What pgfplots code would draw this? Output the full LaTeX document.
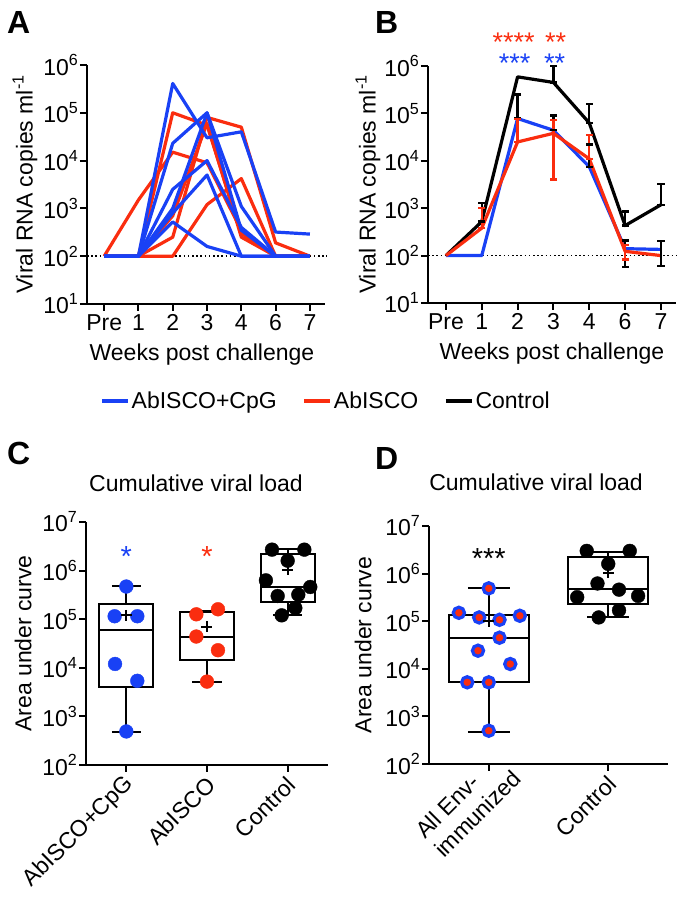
\documentclass[border=0pt]{standalone}
\usepackage{pgfplots}
\pgfplotsset{compat=1.18}
\usepackage{fontspec}
\setmainfont{Liberation Sans}
\definecolor{myblue}{RGB}{25,65,245}
\definecolor{myred}{RGB}{250,45,15}
\newcommand{\fs}{\fontsize{23pt}{27pt}\selectfont}
\newcommand{\ten}[1]{10\textsuperscript{#1}}
\pgfplotsset{
  mybase/.style={
    scale only axis, clip=false,
    axis lines=left,
    axis line style={line width=2pt,-},
    tick style={black,line width=2pt},
    tick align=outside, major tick length=7pt,
    yminorticks=false, xminorticks=false,
    tick label style={font=\fs},
    label style={font=\fs},
    yticklabel style={inner sep=1.5pt},
  },
  mydline/.style={black, line width=1.6pt, dash pattern=on 1.6pt off 2.6pt, forget plot},
  myvl/.style={line width=3.2pt, line join=round, forget plot},
  mybx/.style={black, line width=2pt, unbounded coords=jump, forget plot},
  mymn/.style={only marks, mark=+, mark size=5.5pt, mark options={black, line width=2pt}, forget plot},
}
\begin{document}
\begin{tikzpicture}
\useasboundingbox (0,0) rectangle (686pt,900pt);
\node[font=\fontsize{32pt}{34pt}\selectfont\bfseries, anchor=base west, inner sep=0pt] at (7pt,866.7pt) {A};
\node[font=\fontsize{32pt}{34pt}\selectfont\bfseries, anchor=base west, inner sep=0pt] at (375pt,866.7pt) {B};
\node[font=\fontsize{32pt}{34pt}\selectfont\bfseries, anchor=base west, inner sep=0pt] at (7pt,435pt) {C};
\node[font=\fontsize{32pt}{34pt}\selectfont\bfseries, anchor=base west, inner sep=0pt] at (375pt,430pt) {D};

% ---------------- Panel A ----------------
\begin{axis}[mybase, ymode=log, at={(87pt,596pt)}, anchor=south west, width=238pt, height=239pt,
  xmin=-0.5, xmax=6.44, ymin=10, ymax=1e6,
  xtick={0,...,6}, xticklabels={Pre,1,2,3,4,6,7},
  ytick={10,100,1000,10000,100000,1000000},
  yticklabels={\ten{1},\ten{2},\ten{3},\ten{4},\ten{5},\ten{6}},
  xlabel={Weeks post challenge}, ylabel={Viral RNA copies ml\textsuperscript{-1}},
  xlabel style={at={(axis description cs:0.483,-0.2385)}, anchor=base},
  ylabel style={at={(axis description cs:-0.2605,0.5)}, anchor=center},
]
\addplot[mydline] coordinates {(-0.5,100) (6.5,100)};
% AbISCO (red)
\addplot[myvl, myred] coordinates {(0,100) (1,1500) (2,15000) (3,9000) (4,350) (5,100) (6,100)};
\addplot[myvl, myred] coordinates {(0,100) (1,100) (2,100000) (3,55000) (4,300) (5,100) (6,100)};
\addplot[myvl, myred] coordinates {(0,100) (1,100) (2,250) (3,80000) (4,50000) (5,190) (6,100)};
\addplot[myvl, myred] coordinates {(0,100) (1,100) (2,100) (3,1200) (4,4200) (5,100) (6,100)};
\addplot[myvl, myred] coordinates {(0,100) (1,100) (2,700) (3,60000) (4,250) (5,100) (6,100)};
% AbISCO+CpG (blue)
\addplot[myvl, myblue] coordinates {(0,100) (1,100) (2,410000) (3,30000) (4,40000) (5,320) (6,290)};
\addplot[myvl, myblue] coordinates {(0,100) (1,100) (2,23000) (3,100000) (4,1100) (5,100) (6,100)};
\addplot[myvl, myblue] coordinates {(0,100) (1,100) (2,1000) (3,100000) (4,350) (5,100) (6,100)};
\addplot[myvl, myblue] coordinates {(0,100) (1,100) (2,2500) (3,10000) (4,400) (5,100) (6,100)};
\addplot[myvl, myblue] coordinates {(0,100) (1,100) (2,800) (3,5000) (4,100) (5,100) (6,100)};
\addplot[myvl, myblue] coordinates {(0,100) (1,100) (2,520) (3,160) (4,100) (5,100) (6,100)};
\end{axis}

% ---------------- Panel B ----------------
\begin{axis}[mybase, ymode=log, at={(428pt,597pt)}, anchor=south west, width=248pt, height=237pt,
  xmin=-0.5, xmax=6.42, ymin=10, ymax=1e6,
  xtick={0,...,6}, xticklabels={Pre,1,2,3,4,6,7},
  ytick={10,100,1000,10000,100000,1000000},
  yticklabels={\ten{1},\ten{2},\ten{3},\ten{4},\ten{5},\ten{6}},
  xlabel={Weeks post challenge}, ylabel={Viral RNA copies ml\textsuperscript{-1}},
  xlabel style={at={(axis description cs:0.5,-0.2405)}, anchor=base},
  ylabel style={at={(axis description cs:-0.242,0.5)}, anchor=center},
  legend style={at={(axis description cs:-0.411,-0.4135)}, anchor=center, draw=none, fill=none,
    legend columns=3, font=\fs, /tikz/every even column/.append style={column sep=24pt}},
  legend image code/.code={\draw[#1] (0pt,0pt) -- (26pt,0pt);},
]
\addplot[mydline] coordinates {(-0.5,100) (6.52,100)};
\addplot[myvl, black] coordinates {(0,100) (1,520) (2,590000) (3,450000) (4,63000) (5,430) (6,1180)};
\addplot[myvl, myblue] coordinates {(0,100) (1,100) (2,78000) (3,44000) (4,7500) (5,140) (6,135)};
\addplot[myvl, myred] coordinates {(0,100) (1,380) (2,25000) (3,38000) (4,11000) (5,123) (6,100)};
\addplot[black, line width=2.4pt, mark=-, mark size=3.6pt, mark options={solid, line width=2.4pt}, unbounded coords=jump, forget plot] coordinates {
 (1,520) (1,1280) (1,nan)
 (2,78000) (2,250000) (2,nan)
 (3,450000) (3,1000000) (3,nan)
 (3,44000) (3,90000) (3,nan)
 (4,63000) (4,160000) (4,nan)
 (4,7500) (4,22000) (4,nan)
 (5,430) (5,850) (5,nan)
 (5,57) (5,210) (5,nan)
 (6,1180) (6,3200) (6,nan)
 (6,60) (6,205)
};
\addplot[myred, line width=2.4pt, mark=-, mark size=3.6pt, mark options={solid, line width=2.4pt}, unbounded coords=jump, forget plot] coordinates {
 (1,380) (1,1000) (1,nan)
 (2,25000) (2,76000) (2,nan)
 (3,4000) (3,72000) (3,nan)
 (4,11000) (4,35000) (4,nan)
 (5,83) (5,165)
};
\node[font=\fontsize{27pt}{29pt}\selectfont, text=myred, anchor=base] at (axis cs:1.89,2.04e6) {****};
\node[font=\fontsize{27pt}{29pt}\selectfont, text=myred, anchor=base] at (axis cs:3.06,2.04e6) {**};
\node[font=\fontsize{27pt}{29pt}\selectfont, text=myblue, anchor=base] at (axis cs:1.92,7.4e5) {***};
\node[font=\fontsize{27pt}{29pt}\selectfont, text=myblue, anchor=base] at (axis cs:3.03,7.4e5) {**};
\addlegendimage{myblue, line width=3.2pt}\addlegendentry{AbISCO+CpG}
\addlegendimage{myred, line width=3.2pt}\addlegendentry{AbISCO}
\addlegendimage{black, line width=3.2pt}\addlegendentry{Control}
\end{axis}

% ---------------- Panel C ----------------
\begin{axis}[mybase, ymode=log, at={(86pt,135pt)}, anchor=south west, width=242pt, height=243pt,
  xmin=-0.5, xmax=2.5, ymin=100, ymax=1e7,
  xtick={0,1,2}, xticklabels={AbISCO+CpG,AbISCO,Control},
  xticklabel style={rotate=45, anchor=east, yshift=-9pt},
  ytick={100,1000,10000,100000,1000000,10000000},
  yticklabels={\ten{2},\ten{3},\ten{4},\ten{5},\ten{6},\ten{7}},
  ylabel={Area under curve},
  ylabel style={at={(axis description cs:-0.26,0.5)}, anchor=center},
  title={Cumulative viral load},
  title style={at={(axis description cs:0.4545,1.1016)}, anchor=base, font=\fs},
]
\addplot[mybx] coordinates {
 (-0.335,4100) (0.335,4100) (0.335,210000) (-0.335,210000) (-0.335,4100) (0.335,4100) (0,nan)
 (-0.335,59000) (0.335,59000) (0,nan)
 (0.665,14500) (1.335,14500) (1.335,140000) (0.665,140000) (0.665,14500) (1.335,14500) (1,nan)
 (0.665,44000) (1.335,44000) (1,nan)
 (1.665,230000) (2.335,230000) (2.335,2200000) (1.665,2200000) (1.665,230000) (2.335,230000) (2,nan)
 (1.665,450000) (2.335,450000)
};
\addplot[only marks, mark=*, mark size=6.9pt, myblue, mark options={draw=none, fill=myblue}, forget plot] coordinates {
 (0,470000) (-0.145,115000) (0.136,115000) (-0.14,12000) (0.136,5400) (0,490)};
\addplot[only marks, mark=*, mark size=6.9pt, myred, mark options={draw=none, fill=myred}, forget plot] coordinates {
 (0.868,126000) (1.136,160000) (0.868,44000) (1.136,23000) (1,5200)};
\addplot[only marks, mark=*, mark size=6.9pt, black, mark options={draw=none, fill=black}, forget plot] coordinates {
 (1.806,2700000) (2.207,2700000) (2,1600000) (1.73,630000) (2.28,460000) (1.876,300000) (2.132,320000) (2.095,170000) (1.926,120000)};
\addplot[mybx] coordinates {
 (0,210000) (0,490000) (0,nan) (-0.18,490000) (0.18,490000) (0,nan)
 (0,4100) (0,470) (0,nan) (-0.18,470) (0.18,470) (0,nan)
 (1,140000) (1,150000) (1,nan) (0.82,150000) (1.18,150000) (1,nan)
 (1,14500) (1,5200) (1,nan) (0.82,5200) (1.18,5200) (1,nan)
 (2,2200000) (2,2800000) (2,nan) (1.82,2800000) (2.18,2800000) (2,nan)
 (2,230000) (2,120000) (2,nan) (1.82,120000) (2.18,120000)
};
\addplot[mymn] coordinates {(0,120000) (1,70000) (2,1050000)};
\node[font=\fontsize{29pt}{31pt}\selectfont, text=myblue, anchor=base] at (axis cs:0,1.2e6) {*};
\node[font=\fontsize{29pt}{31pt}\selectfont, text=myred, anchor=base] at (axis cs:1,1.2e6) {*};
\end{axis}

% ---------------- Panel D ----------------
\begin{axis}[mybase, ymode=log, at={(429pt,136pt)}, anchor=south west, width=239pt, height=238pt,
  xmin=-0.5, xmax=1.5, ymin=100, ymax=1e7,
  xtick={0,1}, xticklabels={{All Env-\\immunized\hspace*{-21pt}},Control},
  xticklabel style={rotate=45, anchor=east, align=left, yshift=-9pt},
  ytick={100,1000,10000,100000,1000000,10000000},
  yticklabels={\ten{2},\ten{3},\ten{4},\ten{5},\ten{6},\ten{7}},
  ylabel={Area under curve},
  ylabel style={at={(axis description cs:-0.276,0.5)}, anchor=center},
  title={Cumulative viral load},
  title style={at={(axis description cs:0.448,1.123)}, anchor=base, font=\fs},
]
\addplot[mybx] coordinates {
 (-0.335,5400) (0.335,5400) (0.335,135000) (-0.335,135000) (-0.335,5400) (0.335,5400) (0,nan)
 (-0.335,45000) (0.335,45000) (0,nan)
 (0.665,230000) (1.335,230000) (1.335,2200000) (0.665,2200000) (0.665,230000) (1.335,230000) (1,nan)
 (0.665,470000) (1.335,470000)
};
\addplot[only marks, mark=*, mark size=5.6pt, mark options={draw=myblue, fill=myred, line width=3.2pt}, forget plot] coordinates {
 (0,490000) (-0.25,150000) (-0.08,120000) (0.09,107000) (0.26,130000) (0.09,45000) (-0.09,24000) (0.18,12600) (-0.18,5200) (0,5200) (0,500)};
\addplot[only marks, mark=*, mark size=6.9pt, black, mark options={draw=none, fill=black}, forget plot] coordinates {
 (0.82,3000000) (1.18,3000000) (1,1600000) (0.91,620000) (1.09,460000) (0.74,320000) (1.25,340000) (1.09,170000) (0.92,120000)};
\addplot[mybx] coordinates {
 (0,135000) (0,500000) (0,nan) (-0.175,500000) (0.175,500000) (0,nan)
 (0,5400) (0,480) (0,nan) (-0.175,480) (0.175,480) (0,nan)
 (1,2200000) (1,2800000) (1,nan) (0.825,2800000) (1.175,2800000) (1,nan)
 (1,230000) (1,120000) (1,nan) (0.825,120000) (1.175,120000)
};
\addplot[mymn] coordinates {(0,100000) (1,1050000)};
\node[font=\fontsize{29pt}{31pt}\selectfont, text=black, anchor=base] at (axis cs:0,1.3e6) {***};
\end{axis}
\end{tikzpicture}
\end{document}
